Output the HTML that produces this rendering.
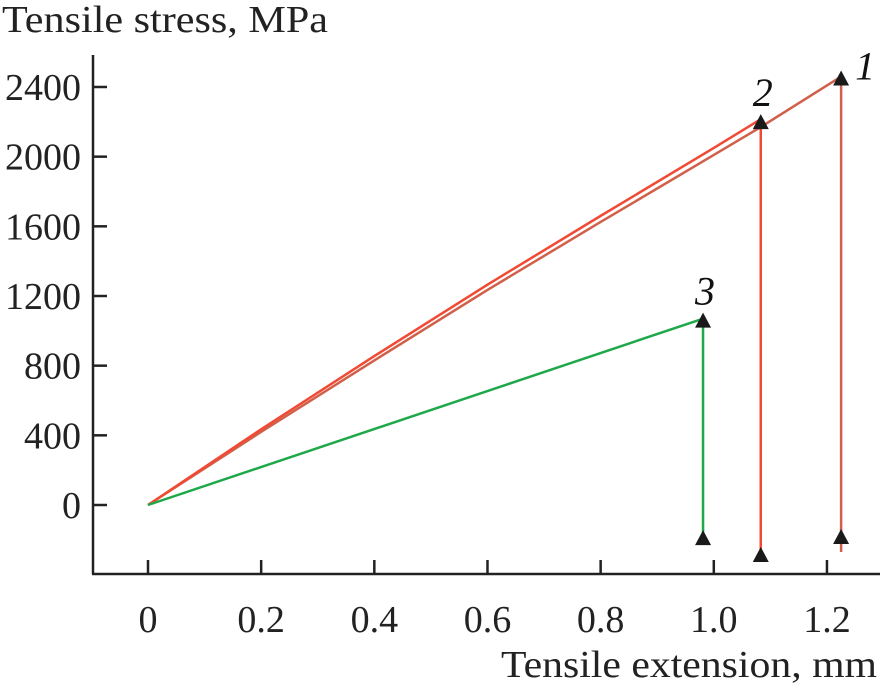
<!DOCTYPE html>
<html><head><meta charset="utf-8"><style>
body{margin:0;background:#fff}
svg{display:block;font-family:"Liberation Serif",serif}
</style></head><body>
<svg id="c" width="881" height="690"></svg>
<script>
const xTicks=[0,0.2,0.4,0.6,0.8,1.0,1.2];
const xTickLabels=["0","0.2","0.4","0.6","0.8","1.0","1.2"];
const yTicks=[0,400,800,1200,1600,2000,2400];
const c1x=[0,0.2,0.4,0.6,0.8,1.0,1.083,1.225];
const c1y=[0,420,830,1235,1625,2010,2170,2460];
const c2x=[0,0.2,0.4,0.6,0.8,1.0,1.083];
const c2y=[0,435,855,1265,1660,2050,2215];
const c3x=[0,0.981];
const c3y=[0,1070];
const breakX=[1.225,1.083,0.981];
const breakTop=[2460,2210,1070];
const breakBottom=[-270,-290,-230];
const markBottom=[-184,-287,-190];
const curveLabels=["1","2","3"];
const colors=["#d0604a","#f04a34","#1fa84a"];
const X=v=>148+v*565.8, Y=v=>505-v*0.17417;
const s=document.getElementById('c'),NS="http://www.w3.org/2000/svg";
function mk(t,a,p){const e=document.createElementNS(NS,t);for(const k in a)e.setAttribute(k,a[k]);(p||s).appendChild(e);return e;}
let e;
e=mk('line',{x1:93,y1:55,x2:93,y2:574,stroke:'#222','stroke-width':2.5});


e=mk('line',{x1:92,y1:574,x2:880,y2:574,stroke:'#222','stroke-width':2.5});


xTicks.forEach((v,i)=>{
 e=mk('line',{x1:X(v),y1:574,x2:X(v),y2:560,stroke:'#222','stroke-width':2.5});
 
 
 e=mk('text',{x:X(v),y:632,'font-size':38,'text-anchor':'middle',fill:'#222'});e.textContent=xTickLabels[i];
 
 
});
yTicks.forEach(v=>{
 e=mk('line',{x1:93,y1:Y(v),x2:107,y2:Y(v),stroke:'#222','stroke-width':2.5});
 
 
 e=mk('text',{x:81,y:Y(v)+13,'font-size':38,'text-anchor':'end',fill:'#222'});e.textContent=v;
 
 
});
e=mk('text',{x:2,y:32,'font-size':38,fill:'#222',textLength:326,lengthAdjust:'spacingAndGlyphs'});e.textContent='Tensile stress, MPa';


e=mk('text',{x:501,y:677,'font-size':38,fill:'#222',textLength:376,lengthAdjust:'spacingAndGlyphs'});e.textContent='Tensile extension, mm';


[[c1x,c1y],[c2x,c2y],[c3x,c3y]].forEach((d,i)=>{
 e=mk('polyline',{points:d[0].map((x,j)=>X(x)+','+Y(d[1][j])).join(' '),fill:'none',stroke:colors[i],'stroke-width':2.5,'stroke-linejoin':'round'});
 
 
});
function tri(x,y){e=mk('polygon',{points:`${x-8},${y+7} ${x+8},${y+7} ${x},${y-8}`,fill:'#1a1a1a'});
 
 }
breakX.forEach((bx,i)=>{
 e=mk('line',{x1:X(bx),y1:Y(breakTop[i]),x2:X(bx),y2:Y(breakBottom[i]),stroke:colors[i],'stroke-width':2.5});
 
 
 tri(X(bx),Y(breakTop[i])+2);
 tri(X(bx),Y(markBottom[i]));
 e=mk('text',{x:X(bx)+(i==0?24:2),y:Y(breakTop[i])-(i==0?-3:14),'font-size':40,'font-style':'italic','text-anchor':'middle',fill:'#111'});e.textContent=curveLabels[i];
 
 
});
</script>
</body></html>
